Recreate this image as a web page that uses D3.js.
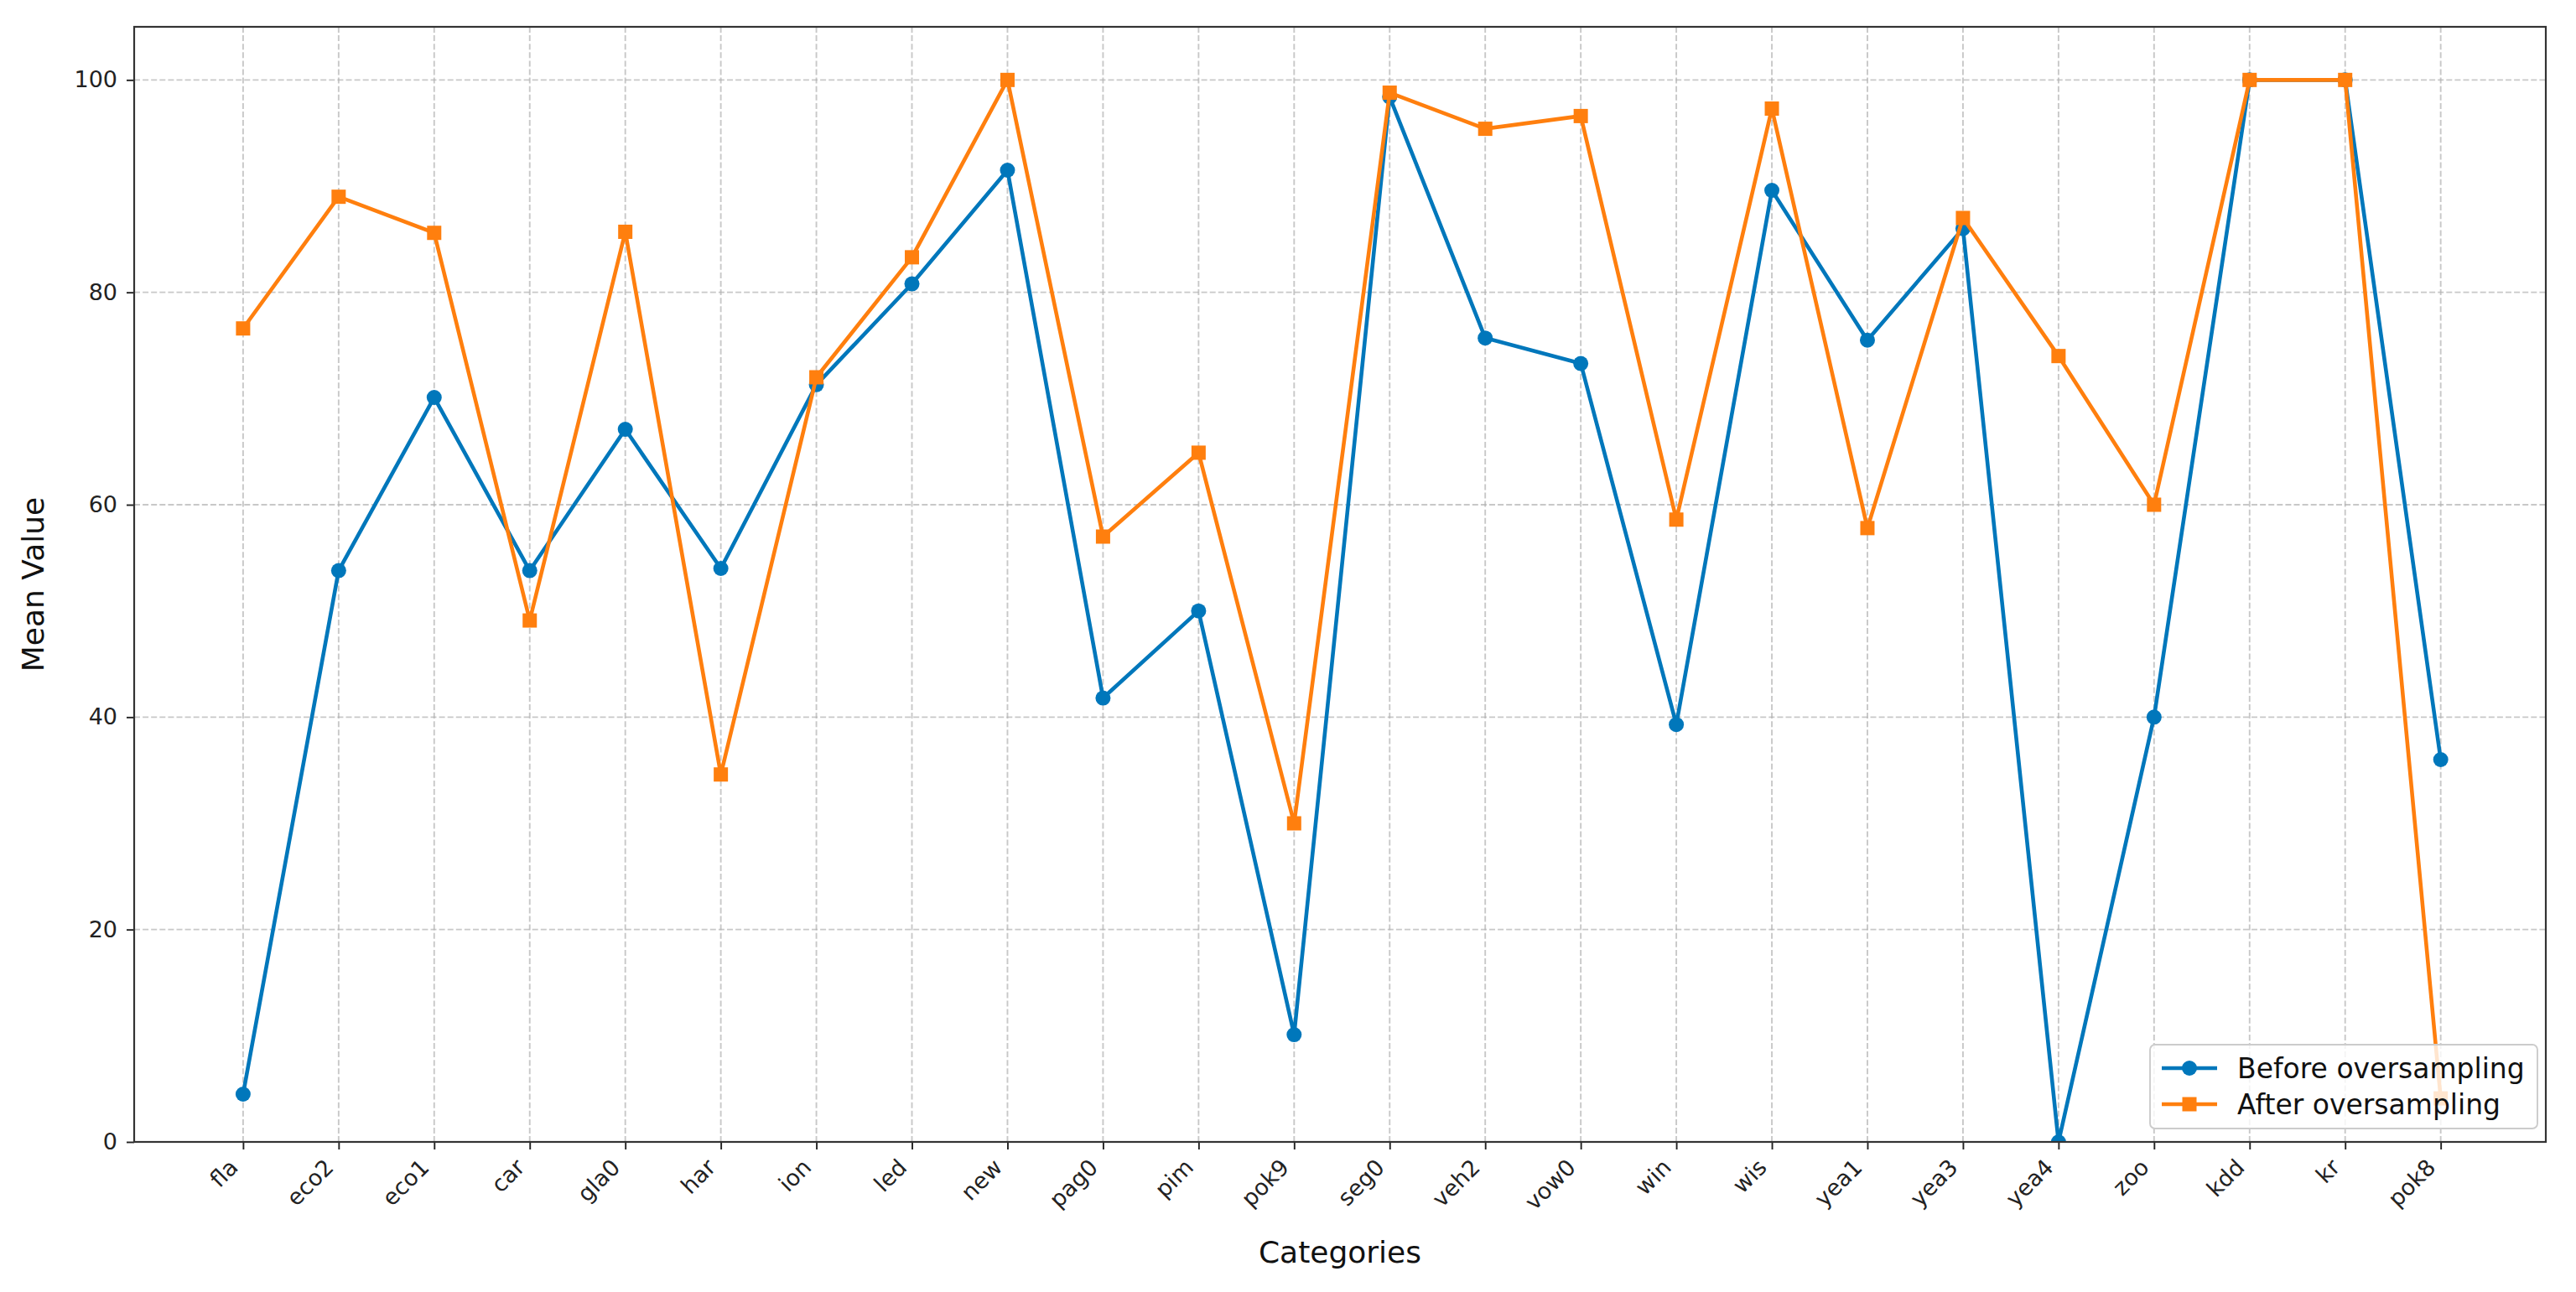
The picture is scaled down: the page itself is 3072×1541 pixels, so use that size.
<!DOCTYPE html>
<html>
<head>
<meta charset="utf-8">
<script src="https://cdn.jsdelivr.net/npm/d3@7"></script>
<style>
  html, body { margin: 0; padding: 0; background: #ffffff; }
  svg { display: block; font-family: "DejaVu Sans", sans-serif; }
</style>
</head>
<body>
<svg id="chart" width="3072" height="1541"></svg>
<script>
const categories = ["fla","eco2","eco1","car","gla0","har","ion","led","new","pag0","pim","pok9","seg0","veh2","vow0","win","wis","yea1","yea3","yea4","zoo","kdd","kr","pok8"];
const beforeValues = [4.5,53.8,70.1,53.8,67.1,54.0,71.3,80.8,91.5,41.8,50.0,10.1,98.4,75.7,73.3,39.3,89.6,75.5,86.0,0.0,40.0,100.0,100.0,36.0];
const afterValues  = [76.6,89.0,85.6,49.1,85.7,34.6,72.0,83.3,100.0,57.0,64.9,30.0,98.8,95.4,96.6,58.6,97.3,57.8,87.0,74.0,60.0,100.0,100.0,4.1];
const yTicks = [0,20,40,60,80,100];
const seriesNames = ["Before oversampling","After oversampling"];

const svg = d3.select("#chart");
const L = 160, R = 3036, T = 32, B = 1362;
const blue = "#0077bb", orange = "#ff7f0e";

const x = d3.scaleLinear().domain([-1.14, categories.length - 1 + 1.1]).range([L, R]);
const y = d3.scaleLinear().domain([0, 105]).range([B, T]);

svg.append("defs").append("clipPath").attr("id","clip")
  .append("rect").attr("x",L).attr("y",T).attr("width",R-L).attr("height",B-T);

// grid
const grid = svg.append("g").attr("stroke","#b0b0b0").attr("stroke-opacity",0.7)
  .attr("stroke-width",1.9).attr("stroke-dasharray","7,3.1");
grid.selectAll(".vg").data(categories).join("line")
  .attr("x1",(d,i)=>x(i)).attr("x2",(d,i)=>x(i)).attr("y1",T).attr("y2",B);
grid.selectAll(".hg").data(yTicks).join("line")
  .attr("x1",L).attr("x2",R).attr("y1",d=>y(d)).attr("y2",d=>y(d));

// series
const plot = svg.append("g").attr("clip-path","url(#clip)");
const line = d3.line().x((d,i)=>x(i)).y(d=>y(d));
const MR = 9, MS = 17;

function drawSeries(vals, color, shape) {
  plot.append("path").datum(vals).attr("d", line).attr("fill","none")
    .attr("stroke", color).attr("stroke-width", 4.6).attr("stroke-linejoin","round");
  if (shape === "circle") {
    plot.append("g").selectAll("circle").data(vals).join("circle")
      .attr("cx",(d,i)=>x(i)).attr("cy",d=>y(d)).attr("r",MR).attr("fill",color);
  } else {
    plot.append("g").selectAll("rect").data(vals).join("rect")
      .attr("x",(d,i)=>x(i)-MS/2).attr("y",d=>y(d)-MS/2).attr("width",MS).attr("height",MS).attr("fill",color);
  }
}
drawSeries(beforeValues, blue, "circle");
drawSeries(afterValues, orange, "square");

// axes
const yAxis = d3.axisLeft(y).tickValues(yTicks).tickSize(9).tickPadding(11).tickFormat(d3.format("d"));
const gy = svg.append("g").attr("transform",`translate(${L},0)`).call(yAxis);
gy.select(".domain").remove();
gy.selectAll("line").attr("stroke","#222").attr("stroke-width",1.9);
gy.selectAll("text").attr("font-size",27).attr("fill","#222").attr("font-family","DejaVu Sans");

const xAxis = d3.axisBottom(x).tickValues(d3.range(categories.length)).tickSize(9).tickFormat(i=>categories[i]);
const gx = svg.append("g").attr("transform",`translate(0,${B})`).call(xAxis);
gx.select(".domain").remove();
gx.selectAll("line").attr("stroke","#222").attr("stroke-width",1.9);
gx.selectAll("text").attr("font-size",27).attr("fill","#222").attr("font-family","DejaVu Sans")
  .attr("text-anchor","end").attr("dy",null).attr("y",null)
  .attr("transform","translate(-5,32) rotate(-45)");

// spines
svg.append("rect").attr("x",L).attr("y",T).attr("width",R-L).attr("height",B-T)
  .attr("fill","none").attr("stroke","#333").attr("stroke-width",2.2);

// axis labels
svg.append("text").attr("x",(L+R)/2).attr("y",1506).attr("text-anchor","middle")
  .attr("font-size",36).attr("fill","#111").text("Categories");
svg.append("text").attr("transform",`translate(52,${(T+B)/2}) rotate(-90)`).attr("text-anchor","middle")
  .attr("font-size",36).attr("fill","#111").text("Mean Value");

// legend
const lgW = 462, lgH = 100;
const lgX = R - 10 - lgW, lgY = B - 16 - lgH;
const lg = svg.append("g").attr("transform",`translate(${lgX},${lgY})`);
lg.append("rect").attr("width",lgW).attr("height",lgH).attr("rx",6).attr("ry",6)
  .attr("fill","#fff").attr("fill-opacity",0.8).attr("stroke","#cccccc").attr("stroke-width",1.9);
const items = [{name:seriesNames[0],color:blue,shape:"circle"},{name:seriesNames[1],color:orange,shape:"square"}];
items.forEach((it,k)=>{
  const cy = 28 + k*43;
  lg.append("line").attr("x1",14).attr("x2",80).attr("y1",cy).attr("y2",cy)
    .attr("stroke",it.color).attr("stroke-width",4.6);
  if (it.shape==="circle") lg.append("circle").attr("cx",47).attr("cy",cy).attr("r",MR).attr("fill",it.color);
  else lg.append("rect").attr("x",47-MS/2).attr("y",cy-MS/2).attr("width",MS).attr("height",MS).attr("fill",it.color);
  lg.append("text").attr("x",104).attr("y",cy+12).attr("font-size",33).attr("fill","#111").text(it.name);
});
</script>
</body>
</html>
